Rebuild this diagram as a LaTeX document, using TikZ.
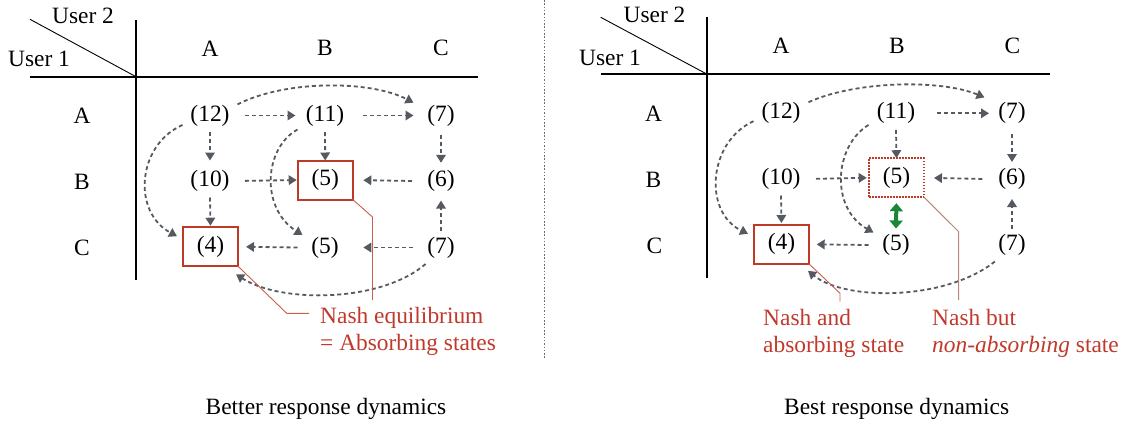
\documentclass[tikz,border=0pt]{standalone}
\usepackage{fontspec}
\setmainfont{Liberation Serif}
\usetikzlibrary{arrows.meta}
\definecolor{arrowgray}{RGB}{85,90,96}
\definecolor{nashred}{RGB}{190,58,38}
\definecolor{textred}{RGB}{192,57,43}
\definecolor{annred}{RGB}{200,95,75}
\definecolor{annpink}{RGB}{185,135,125}
\definecolor{nashgreen}{RGB}{25,135,55}
\definecolor{sepgray}{RGB}{110,110,110}
\tikzset{
  cell/.style={minimum width=55bp, minimum height=33bp, inner sep=0pt, outer sep=0pt},
  nashbox/.style={cell, minimum height=39bp, draw=nashred, line width=2bp},
  dotbox/.style={cell, minimum height=39bp, draw=nashred, line width=1.5bp, dash pattern=on 1.6bp off 1.4bp},
  lbl/.style={inner sep=0pt},
  rtext/.style={inner sep=0pt, text=textred, anchor=base west},
  arr/.style={draw=arrowgray, line width=1.8bp, dash pattern=on 4bp off 3bp, -{Triangle[length=8bp,width=9.5bp]}, fill=none},
  gridline/.style={draw=black, line width=1.6bp},
  diagline/.style={draw=black, line width=0.9bp},
  ann/.style={draw=annred, line width=0.9bp},
  annb/.style={draw=annpink, line width=1bp},
  sepline/.style={draw=sepgray, line width=1.2bp, dash pattern=on 1.5bp off 1.8bp},
  dbl/.style={draw=nashgreen, line width=4bp, {Triangle[length=8bp,width=13bp]}-{Triangle[length=8bp,width=13bp]}},
}
\begin{document}
\begin{tikzpicture}[x=1bp, y=-1bp, font=\fontsize{23.5}{27}\selectfont]
\useasboundingbox (0,0) rectangle (1123,423);

% ================= LEFT PANEL =================
\draw[diagline] (30,19.3) -- (136,76.7);
\draw[gridline] (136,20) -- (136,280);
\draw[gridline] (30,76.7) -- (478,76.7);
\node[lbl] (Lu2) at (83,15.5) {User 2};
\node[lbl] (Lu1) at (39,59.2) {User 1};
\node[lbl] (Lca) at (210,48.3) {A};
\node[lbl] (Lcb) at (325,48.3) {B};
\node[lbl] (Lcc) at (441,48.3) {C};
\node[lbl] (Lra) at (82,115.8) {A};
\node[lbl] (Lrb) at (82,181.5) {B};
\node[lbl] (Lrc) at (82,247.5) {C};

\node[cell] (La1) at (210,115.5) {(12)};
\node[cell] (La2) at (325,115.5) {(11)};
\node[cell] (La3) at (441,115.5) {(7)};
\node[cell] (Lb1) at (210,181) {(10)};
\node[nashbox] (Lb2) at (325.2,180) {(5)};
\node[cell] (Lb3) at (441,181) {(6)};
\node[nashbox] (Lc1) at (210.5,246.7) {(4)};
\node[cell] (Lc2) at (325,247.5) {(5)};
\node[cell] (Lc3) at (441,247.5) {(7)};

\draw[arr, shorten <=7.5bp, shorten >=2bp] (La1.east) -- (La2.west);
\draw[arr, shorten <=10bp] (La2.east) -- (La3.west);
\draw[arr, shorten >=4bp] (La1.south) -- (Lb1.north);
\draw[arr] (La2.south) -- (Lb2.north);
\draw[arr, shorten <=3bp, shorten >=1.7bp] (La3.south) -- (Lb3.north);
\draw[arr, shorten <=7.5bp, shorten >=1bp] (Lb1.east) -- (Lb2.west);
\draw[arr, shorten <=1.5bp, shorten >=10.6bp] (Lb3.west) -- (Lb2.east);
\draw[arr, shorten >=1.5bp] (Lb1.south) -- (Lc1.north);
\draw[arr, shorten >=3bp] (Lc3.north) -- (Lb3.south);
\draw[arr, shorten >=8bp] (Lc2.west) -- (Lc1.east);
\draw[arr, shorten <=1bp, shorten >=10.8bp] (Lc3.west) -- (Lc2.east);

\draw[arr] (La1.22) .. controls (285,80) and (370,80) .. (La3.155);
\draw[arr] (La1.199) .. controls (137,145) and (132,212) .. ([shift={(-6,9)}]Lc1.north west);
\draw[arr] (La2.207) .. controls (264,148) and (260,208) .. ([shift={(5,4)}]Lc2.north west);
\draw[arr] (Lc3.227) .. controls (380,303) and (280,303) .. ([shift={(-2,8)}]Lc1.south east);

\coordinate (Lk1) at (286.7,313.3);
\coordinate (Lk2) at (309,313.3);
\coordinate (Lk3) at (372.5,217);
\coordinate (Lk4) at (372.5,300);
\draw[ann] (Lc1.south east) -- (Lk1) -- (Lk2);
\draw[ann] (Lb2.south east) -- (Lk3) -- (Lk4);
\node[rtext] (Lt1) at (320,323.3) {Nash equilibrium};
\node[rtext] (Lt2) at (320,350.7) {= Absorbing states};

\node[lbl, anchor=base] (Lcap) at (326,414.3) {Better response dynamics};

% ================= SEPARATOR =================
\draw[sepline] (544.3,0) -- (544.3,359);

% ================= RIGHT PANEL =================
\draw[diagline] (600.7,17.3) -- (706.7,74);
\draw[gridline] (706.7,17) -- (706.7,278);
\draw[gridline] (600.7,74) -- (1050,74);
\node[lbl] (Ru2) at (654.5,15) {User 2};
\node[lbl] (Ru1) at (610,57.5) {User 1};
\node[lbl] (Rca) at (781,46.2) {A};
\node[lbl] (Rcb) at (897,46.2) {B};
\node[lbl] (Rcc) at (1012.5,46.2) {C};
\node[lbl] (Rra) at (653.5,113.3) {A};
\node[lbl] (Rrb) at (653.5,179.5) {B};
\node[lbl] (Rrc) at (654.5,245.5) {C};

\node[cell] (Ra1) at (781,113.3) {(12)};
\node[cell] (Ra2) at (896,113.3) {(11)};
\node[cell] (Ra3) at (1012,113.3) {(7)};
\node[cell] (Rb1) at (781,179) {(10)};
\node[dotbox] (Rb2) at (896.5,177.7) {(5)};
\node[cell] (Rb3) at (1012,179) {(6)};
\node[nashbox] (Rc1) at (781.5,244.3) {(4)};
\node[cell] (Rc2) at (896,245) {(5)};
\node[cell] (Rc3) at (1012,245) {(7)};

\draw[arr, shorten <=13.5bp, shorten >=-4.5bp] (Ra2.east) -- (Ra3.west);
\draw[arr] (Ra2.south) -- (Rb2.north);
\draw[arr, shorten <=4.2bp, shorten >=0.5bp] (Ra3.south) -- (Rb3.north);
\draw[arr, shorten <=7.5bp, shorten >=2.3bp] (Rb1.east) -- (Rb2.west);
\draw[arr, shorten <=2.2bp, shorten >=10bp] (Rb3.west) -- (Rb2.east);
\draw[arr, shorten >=1.8bp] (Rb1.south) -- (Rc1.north);
\draw[arr, shorten >=3.5bp] (Rc3.north) -- (Rb3.south);
\draw[arr, shorten >=7.7bp] (Rc2.west) -- (Rc1.east);
\draw[dbl, shorten <=6bp] (Rb2.south) -- (Rc2.north);

\draw[arr] (Ra1.22) .. controls (855,81) and (940,79) .. (Ra3.150);
\draw[arr] (Ra1.196) .. controls (708,142) and (703,212) .. ([shift={(-6,9)}]Rc1.north west);
\draw[arr] (Ra2.203) .. controls (834,146) and (830,208) .. ([shift={(5,4)}]Rc2.north west);
\draw[arr] (Rc3.224) .. controls (945,301) and (845,301) .. ([shift={(-1,7)}]Rc1.south east);

\coordinate (Rk1) at (840,293.3);
\coordinate (Rk2) at (840,301.7);
\coordinate (Rk3) at (958.7,231.7);
\coordinate (Rk4) at (958.7,300);
\draw[ann] (Rc1.south east) -- (Rk1) -- (Rk2);
\draw[annb] (Rb2.south east) -- (Rk3) -- (Rk4);
\node[rtext] (Rt1) at (763,325) {Nash and};
\node[rtext] (Rt2) at (763,352.3) {absorbing state};
\node[rtext] (Rt3) at (932,325) {Nash but};
\node[rtext] (Rt4) at (932,352.3) {\textit{non-absorbing} state};

\node[lbl, anchor=base] (Rcap) at (896.7,414.3) {Best response dynamics};
\end{tikzpicture}
\end{document}
